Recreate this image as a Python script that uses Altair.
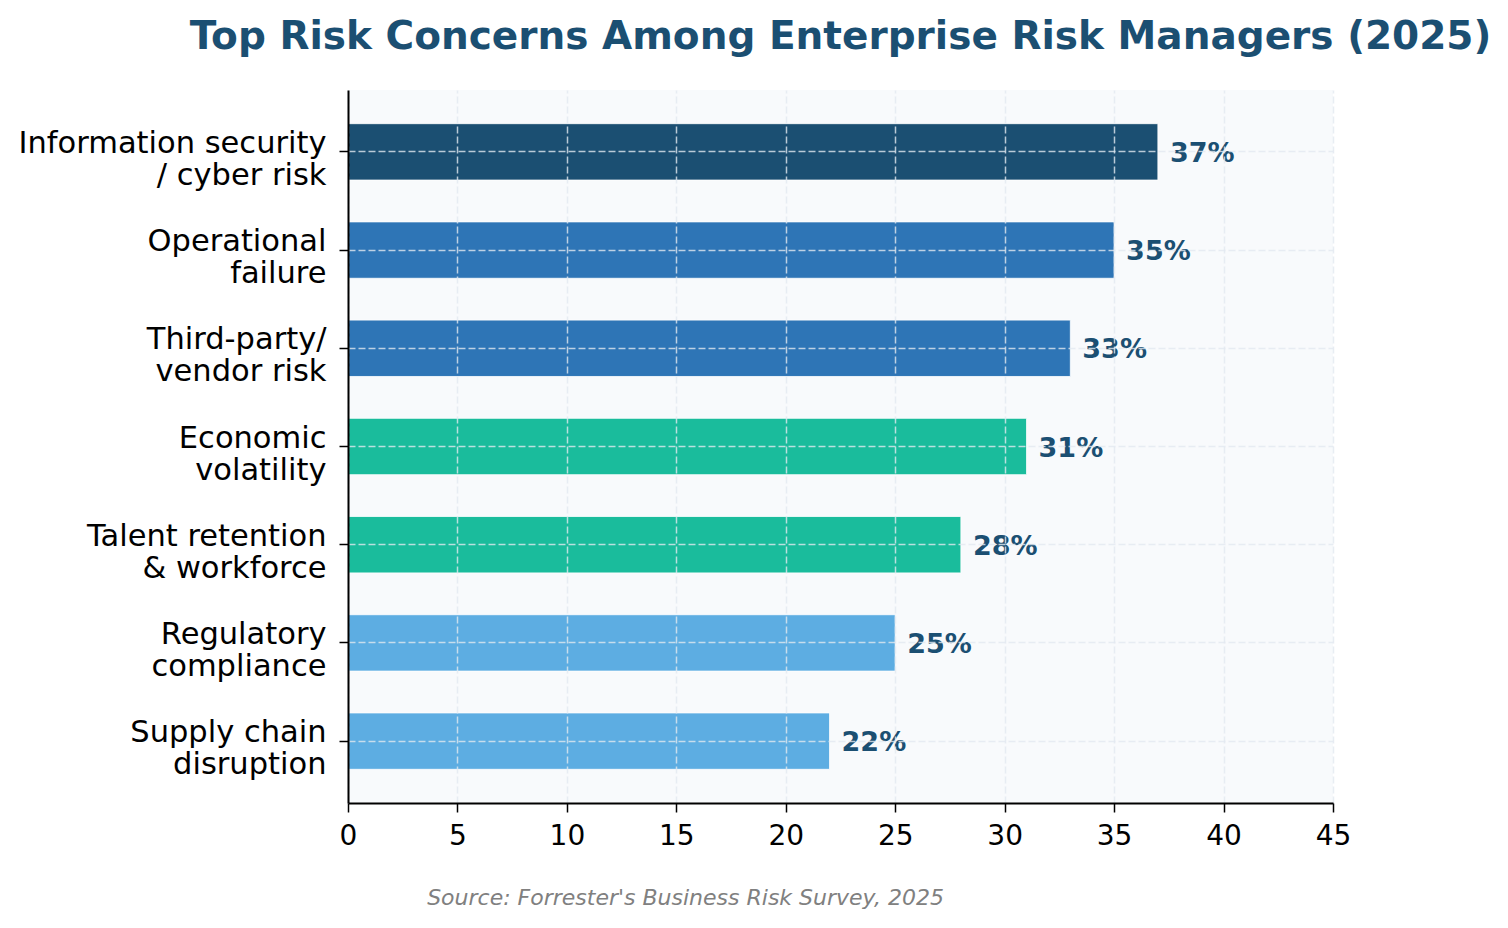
import altair as alt
import pandas as pd

categories = [
    "Information security\n/ cyber risk",
    "Operational\nfailure",
    "Third-party/\nvendor risk",
    "Economic\nvolatility",
    "Talent retention\n& workforce",
    "Regulatory\ncompliance",
    "Supply chain\ndisruption",
]
values = [37, 35, 33, 31, 28, 25, 22]
bar_colors = ["#1b4f72", "#2e75b6", "#2e75b6", "#1abc9c", "#1abc9c", "#5dade2", "#5dade2"]
x_ticks = [0, 5, 10, 15, 20, 25, 30, 35, 40, 45]
value_labels = [f"{v}%" for v in values]

title_text = "Top Risk Concerns Among Enterprise Risk Managers (2025)"
source_text = "Source: Forrester's Business Risk Survey, 2025"

df = pd.DataFrame({"category": categories, "value": values, "label": value_labels})

FONT = "DejaVu Sans"

y_enc = alt.Y(
    "category:N",
    sort=categories,
    scale=alt.Scale(paddingInner=0.426, paddingOuter=0.343),
    axis=alt.Axis(
        title=None,
        labelExpr="split(datum.label, '\\n')",
        labelFontSize=30.5,
        labelLineHeight=32,
        labelLimit=500,
        labelColor="black",
        labelPadding=13,
        labelOffset=-8,
        labelAlign="right",
        labelBaseline="middle",
        tickSize=9,
        tickWidth=1.5,
        tickColor="black",
        domainColor="black",
        domainWidth=2,
        grid=True,
        gridColor="#e2e8f0",
        gridOpacity=0.8,
        gridDash=[7, 3],
        gridWidth=1.5,
        bandPosition=0.5,
        zindex=1,
    ),
)

x_enc = alt.X(
    "value:Q",
    scale=alt.Scale(domain=[0, 45], nice=False, zero=True),
    axis=alt.Axis(
        values=x_ticks,
        title=source_text,
        titleFontSize=22,
        titleFontStyle="italic",
        titleFontWeight="normal",
        titleColor="#808080",
        titleX=337,
        titleY=101,
        titleAlign="center",
        titleBaseline="alphabetic",
        labelFontSize=28,
        labelColor="black",
        labelPadding=10,
        labelFlush=False,
        tickSize=9,
        tickWidth=1.5,
        tickColor="black",
        domainColor="black",
        domainWidth=2,
        grid=True,
        gridColor="#e2e8f0",
        gridOpacity=0.8,
        gridDash=[7, 3],
        gridWidth=1.5,
        zindex=1,
    ),
)

bars = alt.Chart(df).mark_bar(stroke="white", strokeWidth=0.8).encode(
    y=y_enc,
    x=x_enc,
    color=alt.Color(
        "category:N",
        scale=alt.Scale(domain=categories, range=bar_colors),
        legend=None,
    ),
)

texts = alt.Chart(df).mark_text(
    align="left",
    baseline="middle",
    dx=12,
    dy=2,
    fontSize=27,
    fontWeight="bold",
    color="#1b4f72",
    font=FONT,
).encode(
    y=alt.Y("category:N", sort=categories),
    x=alt.X("value:Q"),
    text="label:N",
)

chart = (
    alt.layer(bars, texts)
    .properties(
        width=985,
        height=713,
        title=alt.TitleParams(
            text=title_text,
            fontSize=39,
            font=FONT,
            fontWeight="bold",
            color="#1b4f72",
            anchor="middle",
            frame="group",
            offset=2,
            baseline="alphabetic",
        ),
        autosize=alt.AutoSizeParams(type="none"),
        padding={"left": 340, "top": 82, "right": 167, "bottom": 117},
        background="white",
    )
    .configure(font=FONT)
    .configure_view(fill="#f8fafc", stroke=None)
    .configure_axis(labelFont=FONT, titleFont=FONT)
)

chart.save("out.html", embed_options={"renderer": "svg", "actions": False})
